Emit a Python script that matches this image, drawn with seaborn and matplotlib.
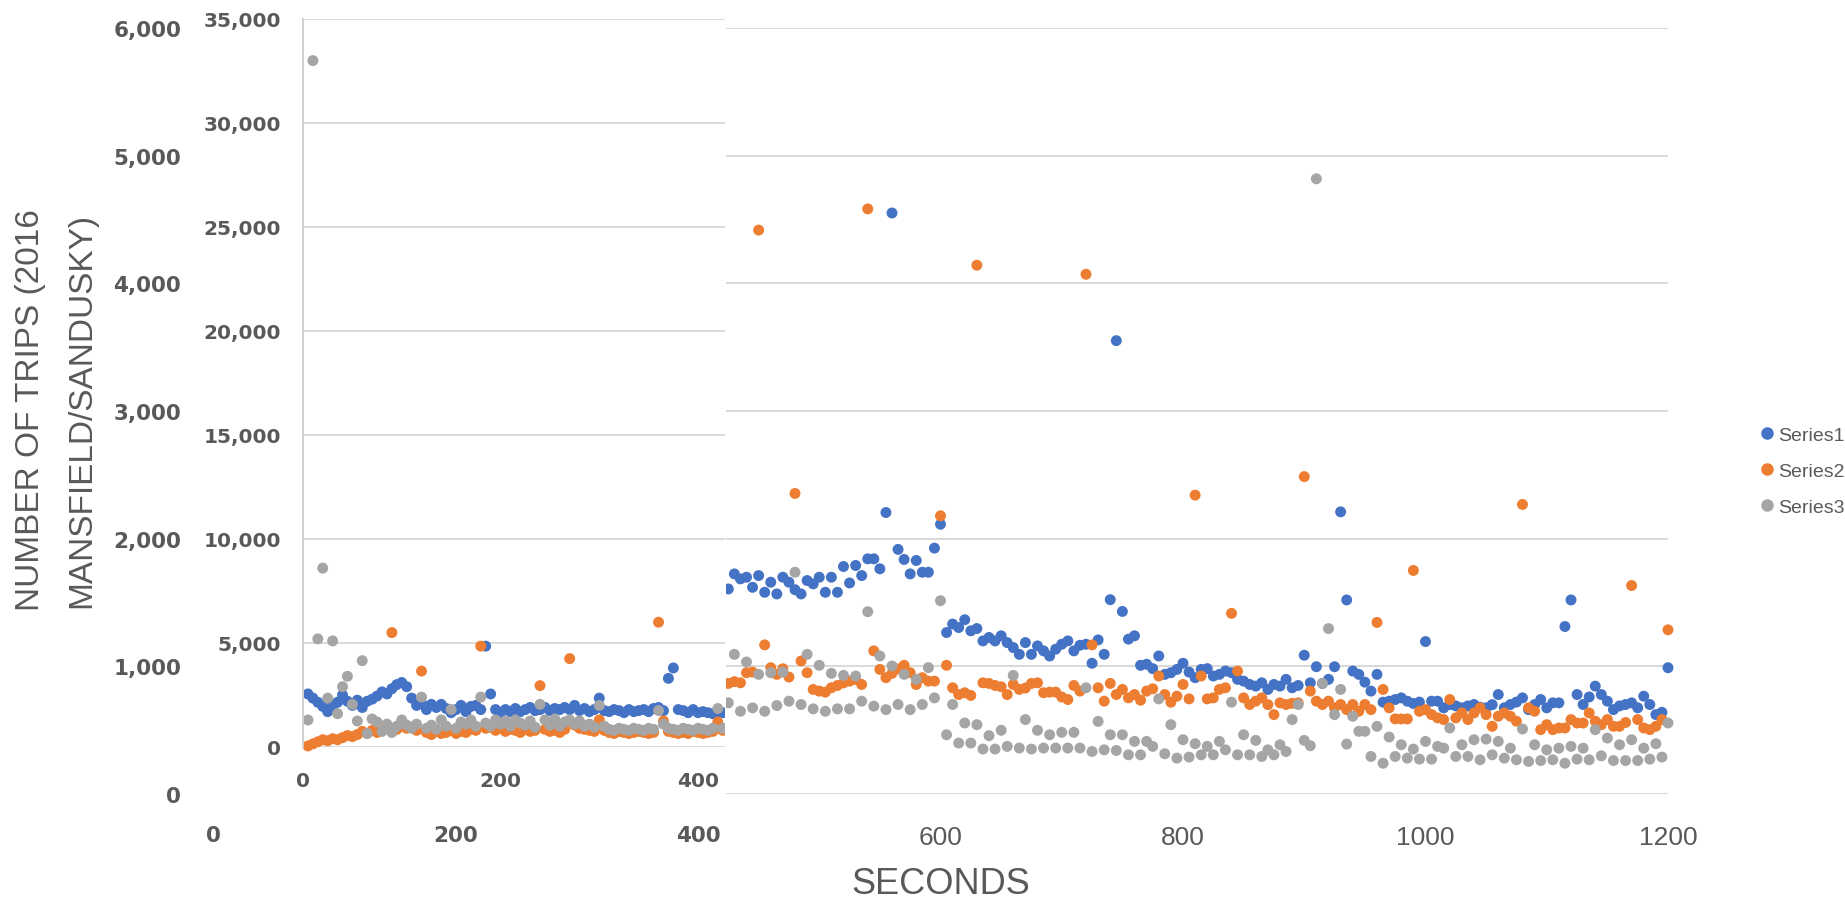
import matplotlib
matplotlib.use("Agg")
import matplotlib.pyplot as plt
from matplotlib.lines import Line2D
from matplotlib.patches import Rectangle
from matplotlib.font_manager import FontProperties
from matplotlib.ticker import FuncFormatter
import pandas as pd
import seaborn as sns

# seconds on the small (left) chart and on the big chart behind it
t_inner = list(range(5, 426, 5))
t_outer = list(range(425, 1201, 5))

# left chart, 0..35,000 scale
s1_inner = [2550, 2350, 2150, 1950, 1700, 2000, 2150, 2500, 2200, 2000,
            2250, 1900, 2200, 2300, 2450, 2650, 2550, 2800, 3000, 3100,
            2900, 2350, 2000, 2100, 1800, 2050, 1900, 2050, 1850, 1650,
            1800, 2000, 1700, 1950, 2000, 1800, 4850, 2550, 1800, 1650,
            1800, 1700, 1850, 1700, 1800, 1900, 1750, 1800, 1900, 1750,
            1850, 1800, 1900, 1800, 2000, 1750, 1850, 1700, 1800, 2350,
            1750, 1700, 1800, 1750, 1650, 1800, 1700, 1750, 1800, 1700,
            1850, 1900, 1750, 3300, 3800, 1800, 1750, 1650, 1800, 1650,
            1700, 1650, 1600, 1700, 1650]
s2_inner = [50, 150, 250, 350, 300, 400, 350, 450, 550, 500,
            600, 750, 650, 800, 700, 900, 1000, 5500, 850, 1000,
            900, 950, 800, 3650, 700, 600, 750, 650, 700, 800,
            650, 750, 700, 850, 800, 4850, 900, 950, 800, 900,
            750, 850, 800, 700, 850, 750, 800, 2950, 850, 750,
            800, 700, 850, 4250, 1050, 900, 850, 800, 750, 1300,
            800, 700, 650, 750, 700, 650, 700, 750, 700, 650,
            700, 6000, 1250, 750, 700, 650, 700, 650, 750, 700,
            650, 700, 750, 1200, 800]
s3_inner = [1300, 33000, 5200, 8600, 2350, 5100, 1600, 2900, 3400, 2050,
            1250, 4150, 650, 1350, 1200, 750, 1100, 700, 1000, 1300,
            1050, 900, 1100, 2400, 900, 1050, 850, 1300, 1000, 1800,
            900, 1200, 1100, 1300, 1000, 2400, 1150, 1000, 1300, 1100,
            1250, 1000, 1300, 1150, 1050, 1250, 950, 2050, 1300, 1050,
            1350, 1000, 1200, 1300, 1100, 1250, 1000, 1100, 950, 2000,
            1000, 850, 800, 900, 850, 800, 900, 850, 800, 900,
            850, 1750, 1100, 900, 850, 800, 900, 850, 800, 900,
            850, 800, 900, 1850, 900]

# big chart, 0..6,000 scale (only the part right of the small chart shows)
s1_outer = [1606, 1724, 1685, 1698, 1619, 1711, 1580, 1659, 1567, 1698,
            1659, 1600, 1567, 1672, 1646, 1698, 1580, 1698, 1580, 1782,
            1653, 1790, 1711, 1842, 1842, 1764, 2205, 4551, 1916, 1837,
            1724, 1829, 1737, 1737, 1926, 2113, 1265, 1331, 1304, 1365,
            1278, 1296, 1199, 1226, 1199, 1239, 1186, 1147, 1094, 1186,
            1094, 1160, 1121, 1081, 1134, 1173, 1199, 1121, 1165, 1173,
            1024, 1207, 1094, 1522, 3551, 1430, 1213, 1239, 1008, 1016,
            982, 1081, 937, 950, 976, 1024, 955, 911, 976, 982,
            924, 937, 963, 950, 898, 884, 858, 845, 871, 819,
            858, 845, 898, 832, 850, 1087, 871, 997, 866, 898,
            997, 2210, 1520, 963, 937, 876, 806, 937, 719, 727,
            740, 753, 727, 709, 720, 1194, 727, 727, 675, 700,
            690, 675, 690, 701, 680, 675, 700, 779, 675, 701,
            720, 753, 661, 700, 740, 675, 714, 714, 1312, 1520,
            779, 701, 760, 845, 779, 727, 661, 690, 701, 714,
            675, 766, 701, 622, 640, 989]
s2_outer = [866, 880, 871, 950, 955, 4417, 1168, 989, 937, 981,
            916, 2354, 1042, 950, 819, 806, 798, 832, 850, 870,
            884, 897, 858, 4583, 1121, 976, 911, 945, 980, 1008,
            950, 858, 911, 884, 884, 2179, 1008, 832, 779, 793,
            772, 4142, 871, 866, 850, 840, 779, 858, 819, 830,
            866, 871, 793, 798, 798, 760, 740, 850, 806, 4071,
            1168, 832, 727, 866, 779, 819, 753, 779, 735, 806,
            824, 924, 779, 719, 766, 858, 745, 2341, 924, 745,
            753, 819, 832, 1415, 963, 753, 701, 727, 753, 700,
            622, 714, 701, 710, 714, 2486, 806, 727, 701, 727,
            675, 701, 661, 701, 648, 701, 661, 1344, 819, 675,
            588, 588, 588, 1751, 648, 661, 622, 596, 583, 740,
            596, 635, 583, 635, 675, 622, 530, 609, 635, 609,
            570, 2268, 675, 648, 504, 543, 504, 517, 517, 583,
            556, 556, 635, 570, 543, 583, 530, 530, 560, 1633,
            583, 517, 504, 530, 583, 1286]
s3_outer = [714, 1094, 648, 1034, 675, 937, 648, 950, 693, 955,
            727, 1737, 701, 1094, 667, 1008, 648, 945, 667, 929,
            667, 924, 727, 1428, 688, 1081, 661, 1003, 701, 937,
            661, 898, 701, 990, 753, 1514, 464, 701, 399, 556,
            399, 543, 352, 457, 352, 499, 373, 929, 360, 583,
            352, 499, 360, 464, 360, 483, 360, 483, 360, 832,
            333, 569, 346, 464, 341, 464, 307, 412, 307, 412,
            373, 745, 315, 543, 281, 425, 289, 394, 307, 373,
            307, 412, 346, 719, 307, 464, 307, 420, 294, 346,
            307, 386, 333, 583, 701, 420, 378, 4819, 866, 1296,
            622, 819, 391, 609, 491, 491, 294, 530, 241, 446,
            294, 386, 281, 352, 273, 412, 273, 373, 359, 517,
            294, 386, 294, 425, 268, 430, 307, 412, 281, 359,
            268, 509, 255, 386, 262, 346, 268, 359, 241, 373,
            273, 359, 268, 504, 299, 438, 262, 386, 262, 425,
            262, 359, 273, 394, 289, 556]

series_names = ["Series1", "Series2", "Series3"]
palette = {"Series1": "#4472C4", "Series2": "#ED7D31", "Series3": "#A5A5A5"}
TXT = "#595959"
GRID = "#D9D9D9"
SANS = ["Liberation Sans", "DejaVu Sans"]


def long_frame(t, s1, s2, s3):
    parts = []
    for name, vals in zip(series_names, [s1, s2, s3]):
        parts.append(pd.DataFrame({"t": t, "v": vals, "series": name}))
    return pd.concat(parts, ignore_index=True)


df_in = long_frame(t_inner, s1_inner, s2_inner, s3_inner)
df_out = long_frame(t_outer, s1_outer, s2_outer, s3_outer)

W, H = 1845, 904
fx = lambda px: px / W
fy = lambda py: 1 - py / H

fig = plt.figure(figsize=(W / 100, H / 100), dpi=100)
comma = FuncFormatter(lambda v, p: f"{v:,.0f}")
bold = FontProperties(family="DejaVu Sans", weight="bold", size=15.5)

# ---- big chart (0..6,000, 0..1200 s)
ax_out = fig.add_axes([fx(213), fy(795), fx(1668) - fx(213), fy(29) - fy(795)])
ax_out.set_zorder(0)
sns.scatterplot(data=df_out, x="t", y="v", hue="series", palette=palette,
                s=62, linewidth=0, legend=False, ax=ax_out, clip_on=False)
ax_out.set_xlim(0, 1200)
ax_out.set_ylim(0, 6000)
ax_out.set_yticks(range(0, 7000, 1000))
ax_out.yaxis.set_major_formatter(comma)
ax_out.set_xticks(range(0, 1201, 200))
for sp in ax_out.spines.values():
    sp.set_visible(False)
ax_out.yaxis.grid(True, color=GRID, lw=1.4)
ax_out.set_axisbelow(True)
ax_out.tick_params(axis="y", length=0, pad=23, colors=TXT)
ax_out.tick_params(axis="x", length=0, pad=22, colors=TXT)
for lab in ax_out.get_yticklabels():
    lab.set_fontproperties(bold)
for lab, v in zip(ax_out.get_xticklabels(), range(0, 1201, 200)):
    if v <= 400:
        lab.set_fontproperties(bold)
    else:
        lab.set_fontproperties(FontProperties(family=SANS, size=19))
ax_out.set_xlabel("")
ax_out.set_ylabel("")

handles = [Line2D([], [], marker="o", ls="", color=palette[n], markersize=8)
           for n in series_names]
ax_out.legend(handles, series_names, loc="center left",
              bbox_to_anchor=(fx(1752), fy(472)), bbox_transform=fig.transFigure,
              frameon=False, borderpad=0, handlelength=0.55, handletextpad=0.3,
              labelspacing=0.95, labelcolor=TXT,
              prop=FontProperties(family=SANS, size=14))

# white patch hiding the big chart behind the small one
fig.patches.append(Rectangle((fx(205), fy(799)), fx(726) - fx(205), 1 - fy(799),
                             transform=fig.transFigure, facecolor="white",
                             edgecolor="none", zorder=1))

# ---- small chart (0..35,000, 0..~427 s)
ax_in = fig.add_axes([fx(303), fy(748), fx(725) - fx(303), fy(20) - fy(748)])
ax_in.set_zorder(2)
sns.scatterplot(data=df_in, x="t", y="v", hue="series", palette=palette,
                s=62, linewidth=0, legend=False, ax=ax_in)
clip = Rectangle((-0.05, -0.05), 1.05, 1.1, transform=ax_in.transAxes)
for coll in ax_in.collections:
    coll.set_clip_path(clip)
ax_in.set_xlim(0, 427.3)
ax_in.set_ylim(0, 35000)
ax_in.set_yticks(range(0, 35001, 5000))
ax_in.yaxis.set_major_formatter(comma)
ax_in.set_xticks([0, 200, 400])
for name, sp in ax_in.spines.items():
    sp.set_visible(name == "left")
ax_in.spines["left"].set_color("#D0D0D0")
ax_in.spines["left"].set_linewidth(1.4)
ax_in.yaxis.grid(True, color=GRID, lw=1.4)
ax_in.set_axisbelow(True)
ax_in.tick_params(axis="y", length=0, pad=16, colors=TXT)
ax_in.tick_params(axis="x", length=0, pad=17, colors=TXT)
small_bold = FontProperties(family="DejaVu Sans", weight="bold", size=14.5)
for lab in ax_in.get_yticklabels() + ax_in.get_xticklabels():
    lab.set_fontproperties(small_bold)
ax_in.set_xlabel("")
ax_in.set_ylabel("")

# ---- axis titles
fig.text(fx(31), fy(410), "NUMBER OF TRIPS (2016", rotation=90, ha="center",
         va="center", color=TXT, family=SANS, fontsize=24)
fig.text(fx(82), fy(410), "MANSFIELD/SANDUSKY)", rotation=90, ha="center",
         va="center", color=TXT, family=SANS, fontsize=24)
fig.text(fx(941), fy(894), "SECONDS", ha="center", va="baseline",
         color=TXT, family=SANS, fontsize=26)

fig.savefig("out.png", dpi=100)
